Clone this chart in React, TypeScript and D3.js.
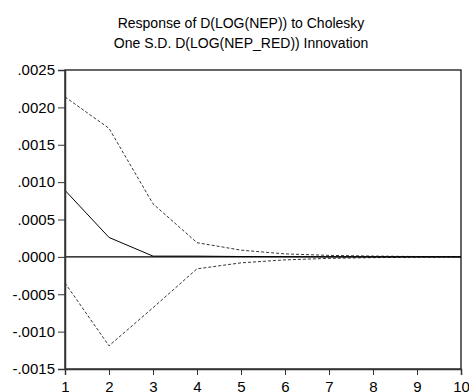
import React, { useEffect, useRef } from 'react';
import * as d3 from 'd3';

// Impulse response with +/- 2 S.E. bands
const periods = [1, 2, 3, 4, 5, 6, 7, 8, 9, 10];
const response = [0.00089, 0.00026, 0.00001, 0.00001, 0.000005, 0.000003, 0.000001, 0.0, 0.0, 0.0];
const upper = [0.00214, 0.00172, 0.00071, 0.00019, 0.00009, 0.00004, 0.00002, 0.00001, 0.000005, 0.000002];
const lower = [-0.00035, -0.00119, -0.00068, -0.00016, -0.00008, -0.00004, -0.00002, -0.00001, -0.000004, -0.000002];
const yTicks = [0.0025, 0.002, 0.0015, 0.001, 0.0005, 0, -0.0005, -0.001, -0.0015];
const titleLines = ['Response of D(LOG(NEP)) to Cholesky', 'One S.D. D(LOG(NEP_RED)) Innovation'];

const W = 469;
const H = 392;

export default function App() {
  const svgRef = useRef<SVGSVGElement>(null);

  useEffect(() => {
    if (!svgRef.current) return;
    const svg = d3.select(svgRef.current);
    svg.selectAll('*').remove();

    const margin = { top: 70, right: 8, bottom: 23, left: 65 };
    const x0 = margin.left;
    const x1 = W - margin.right;
    const y0 = margin.top;
    const y1 = H - margin.bottom;

    const x = d3.scaleLinear().domain([1, 10]).range([x0, x1]);
    const y = d3.scaleLinear().domain([-0.0015, 0.0025]).range([y1, y0]);

    const font = 'Arial, "Liberation Sans", sans-serif';

    // title sits a little left of the plot centre
    svg
      .append('g')
      .selectAll('text')
      .data(titleLines)
      .enter()
      .append('text')
      .attr('x', 241)
      .attr('y', (_, i) => 28 + i * 20)
      .attr('text-anchor', 'middle')
      .style('font-family', font)
      .style('font-size', '14px')
      .text((d) => d);

    // zero line
    svg
      .append('line')
      .attr('x1', x0)
      .attr('x2', x1)
      .attr('y1', y(0))
      .attr('y2', y(0))
      .attr('stroke', '#000')
      .attr('stroke-width', 1.2);

    const line = d3
      .line<number>()
      .x((_, i) => x(periods[i]))
      .y((d) => y(d));

    svg
      .append('path')
      .attr('d', line(upper))
      .attr('fill', 'none')
      .attr('stroke', '#000')
      .attr('stroke-width', 0.8)
      .attr('stroke-dasharray', '3,2');
    svg
      .append('path')
      .attr('d', line(lower))
      .attr('fill', 'none')
      .attr('stroke', '#000')
      .attr('stroke-width', 0.8)
      .attr('stroke-dasharray', '3,2');
    svg
      .append('path')
      .attr('d', line(response))
      .attr('fill', 'none')
      .attr('stroke', '#000')
      .attr('stroke-width', 1);

    // frame
    svg
      .append('rect')
      .attr('x', x0)
      .attr('y', y0)
      .attr('width', x1 - x0)
      .attr('height', y1 - y0)
      .attr('fill', 'none')
      .attr('stroke', '#000')
      .attr('stroke-width', 1.2);

    const yAxis = svg
      .append('g')
      .attr('transform', `translate(${x0},0)`)
      .call(
        d3
          .axisLeft(y)
          .tickValues(yTicks)
          .tickSize(7)
          .tickPadding(3)
          .tickFormat((d) => {
            const v = +d;
            if (Math.abs(v) < 1e-12) return '.0000';
            const s = Math.abs(v).toFixed(4).replace(/^0/, '');
            return (v < 0 ? '-' : '') + s;
          })
      );
    yAxis.select('.domain').attr('stroke', '#333').attr('stroke-width', 1.5);
    yAxis.selectAll('line').attr('stroke', '#333');
    yAxis.selectAll('text').style('font-family', font).style('font-size', '15px').attr('fill', '#000');

    const xAxis = svg
      .append('g')
      .attr('transform', `translate(0,${y1})`)
      .call(d3.axisBottom(x).tickValues(periods).tickSize(6).tickPadding(6).tickFormat(d3.format('d')));
    xAxis.select('.domain').attr('stroke', '#333').attr('stroke-width', 1.5);
    xAxis.selectAll('line').attr('stroke', '#333');
    xAxis.selectAll('text').style('font-family', font).style('font-size', '15px').attr('fill', '#000');
  }, []);

  return (
    <svg
      ref={svgRef}
      width={W}
      height={H}
      style={{ position: 'absolute', left: 0, top: 0, background: '#fff' }}
    />
  );
}
